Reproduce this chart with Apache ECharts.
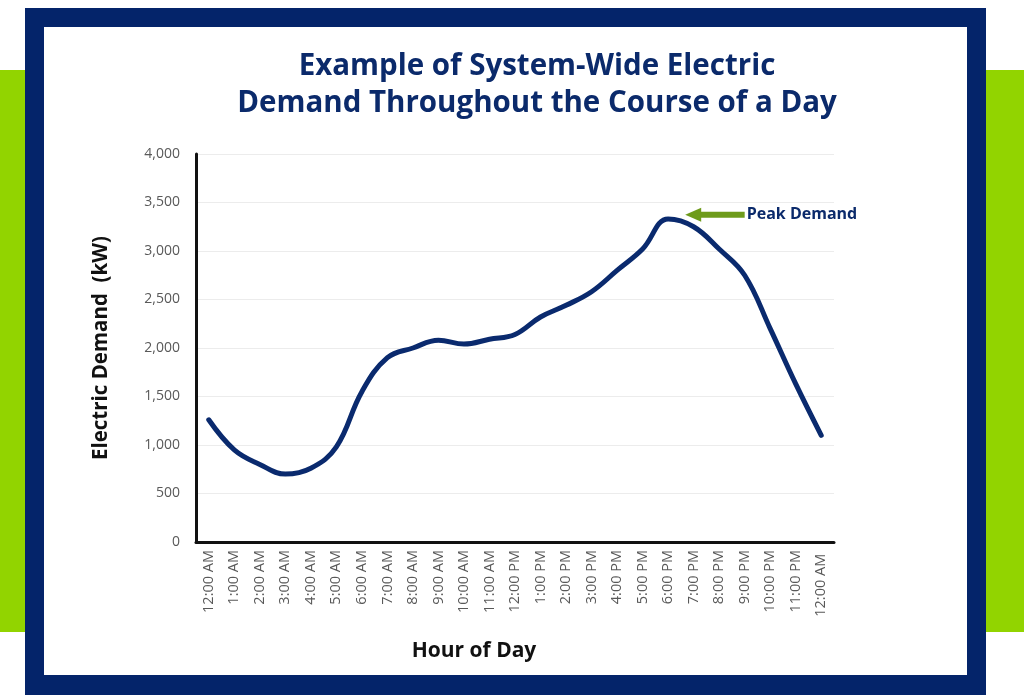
<!DOCTYPE html>
<html>
<head>
<meta charset="utf-8">
<script src="https://cdn.jsdelivr.net/npm/echarts@6/dist/echarts.min.js"></script>
<style>
html,body{margin:0;padding:0;background:#fff;}
#c{width:1024px;height:700px;}
</style>
</head>
<body>
<div id="c"></div>
<script>
var hours = ['12:00 AM','1:00 AM','2:00 AM','3:00 AM','4:00 AM','5:00 AM','6:00 AM','7:00 AM','8:00 AM','9:00 AM','10:00 AM','11:00 AM','12:00 PM','1:00 PM','2:00 PM','3:00 PM','4:00 PM','5:00 PM','6:00 PM','7:00 PM','8:00 PM','9:00 PM','10:00 PM','11:00 PM','12:00 AM '];
var demand = [1260,950,800,700,760,980,1550,1900,2000,2080,2040,2090,2140,2320,2440,2580,2800,3020,3330,3250,3020,2750,2200,1630,1100];
var yTicks = [0,500,1000,1500,2000,2500,3000,3500,4000];
var peakLabel = 'Peak Demand';
var peakArrow = {tipIndex: 18.67, tailIndex: 21.0, value: 3375};

var navy = '#0b2a6b';
var green = '#92d400';
var arrowGreen = '#6e9b1b';
var chart = echarts.init(document.getElementById('c'), null, {renderer:'canvas'});

var frame = [
  {type:'rect', shape:{x:0,y:70,width:26,height:562}, style:{fill:green}, z:-10, silent:true},
  {type:'rect', shape:{x:984,y:70,width:40,height:562}, style:{fill:green}, z:-10, silent:true},
  {type:'rect', shape:{x:25,y:8,width:961,height:687}, style:{fill:'#04246a'}, z:-9, silent:true},
  {type:'rect', shape:{x:44,y:27,width:923,height:648}, style:{fill:'#ffffff'}, z:-8, silent:true}
];

var option = {
  animation:false,
  title:[
    {text:'Example of System-Wide Electric\nDemand Throughout the Course of a Day', left:532, top:43, textAlign:'center',
     textStyle:{color:navy, fontSize:29.5, fontWeight:'bold', fontFamily:'Open Sans', lineHeight:37}},
    {text:'Hour of Day', left:469, top:636, textAlign:'center',
     textStyle:{color:'#111', fontSize:21, fontWeight:'bold', fontFamily:'Open Sans'}}
  ],
  grid:{left:196, right:190, top:154, bottom:158},
  xAxis:{
    type:'category', data:hours, boundaryGap:true,
    axisLine:{lineStyle:{color:'#111', width:3}},
    axisTick:{show:false},
    axisLabel:{rotate:90, color:'#595959', fontSize:14.5, fontFamily:'Open Sans', interval:0, margin:8}
  },
  yAxis:{
    type:'value', min:0, max:4000, interval:500,
    name:'Electric Demand  (kW)', nameLocation:'middle', nameGap:84,
    nameTextStyle:{color:'#111', fontSize:20.5, fontWeight:'bold', fontFamily:'Open Sans', padding:[0,0,0,0]},
    axisLine:{show:true, lineStyle:{color:'#111', width:3}},
    axisTick:{show:false},
    splitLine:{lineStyle:{color:'#ececec', width:1}},
    axisLabel:{color:'#595959', fontSize:14, fontFamily:'Open Sans', margin:16,
      formatter:function(v){ return yTicks.indexOf(v)>=0 ? v.toLocaleString('en-US') : ''; }}
  },
  series:[{
    type:'line', data:demand, smooth:0.4, showSymbol:false,
    lineStyle:{color:'#0a2a6e', width:5, cap:'round'}
  }],
  graphic: frame
};
chart.setOption(option);

function px(idx, val){
  var i0 = Math.floor(idx), f = idx - i0;
  var a = chart.convertToPixel({gridIndex:0}, [i0, val]);
  var b = chart.convertToPixel({gridIndex:0}, [i0+1, val]);
  return [a[0] + (b[0]-a[0])*f, a[1]];
}
var tip = px(peakArrow.tipIndex, peakArrow.value);
var tail = px(peakArrow.tailIndex, peakArrow.value);
chart.setOption({graphic: frame.concat([
  {type:'rect', shape:{x:tip[0]+15, y:tip[1]-3, width:tail[0]-tip[0]-15, height:6}, style:{fill:arrowGreen}, z:10},
  {type:'polygon', shape:{points:[[tip[0],tip[1]],[tip[0]+16,tip[1]-7],[tip[0]+16,tip[1]+7]]}, style:{fill:arrowGreen}, z:10},
  {type:'text', x:tail[0]+2, y:tip[1], style:{text:peakLabel, fill:navy, font:'bold 16px "Open Sans"', verticalAlign:'middle', align:'left'}, z:10}
])});
</script>
</body>
</html>
